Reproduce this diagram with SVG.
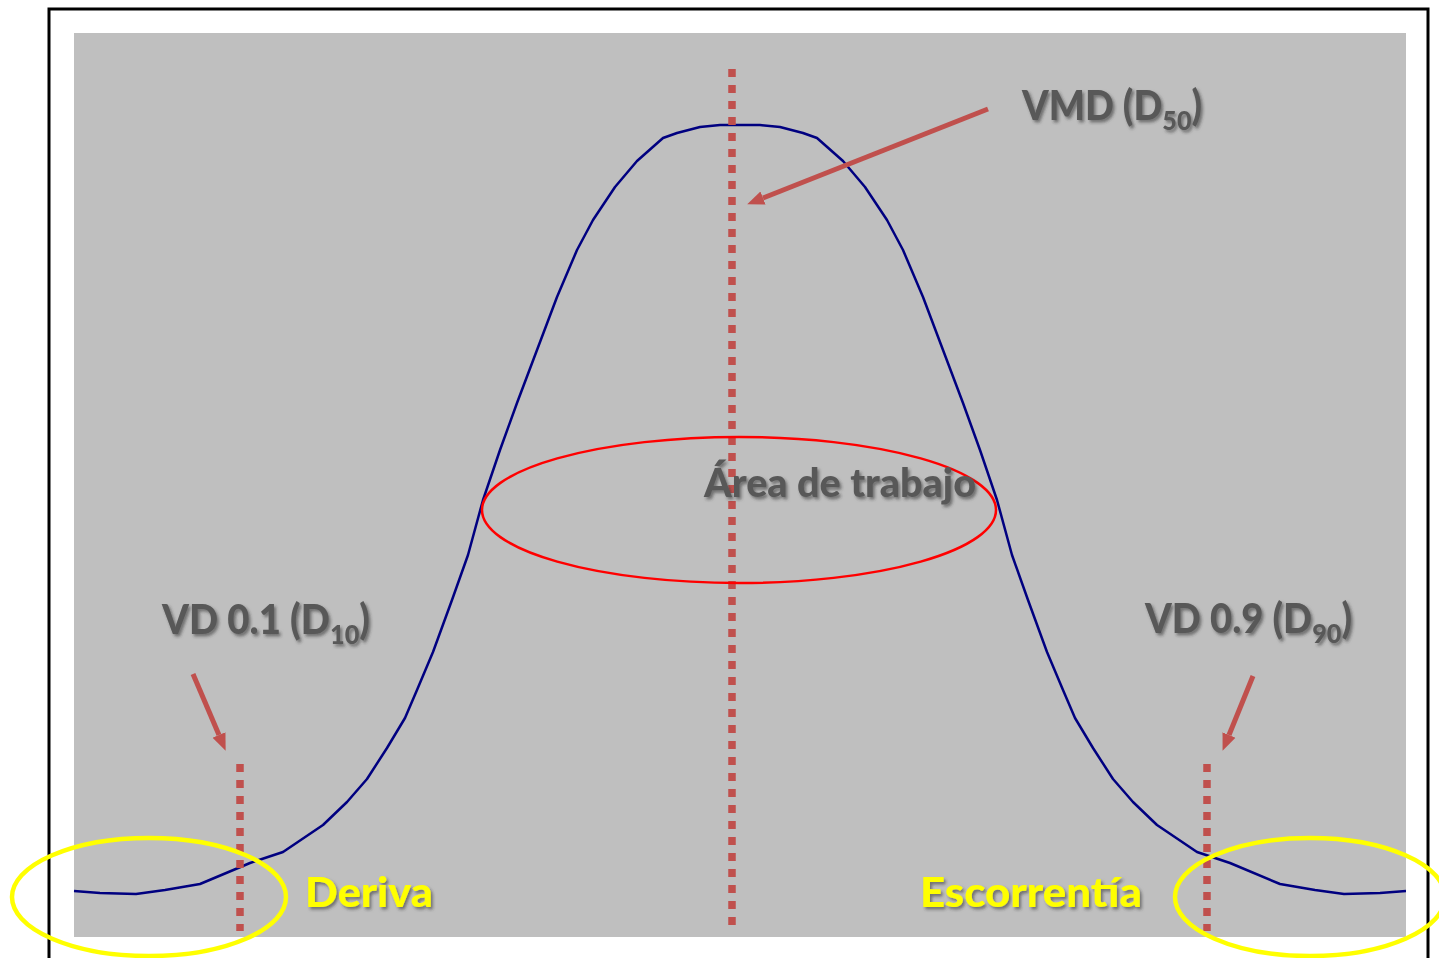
<svg xmlns="http://www.w3.org/2000/svg" width="1439" height="958" viewBox="0 0 1439 958">
<defs>
<style>
.lbl{font-family:Lato,"Open Sans","Liberation Sans",sans-serif;font-weight:900;fill:#595959;filter:url(#sh)}
.yl{font-family:Lato,"Open Sans","Liberation Sans",sans-serif;font-weight:900;fill:#FFFF00;filter:url(#sh)}
.dot{stroke:#C0504D;stroke-width:7.5;stroke-dasharray:8 8;fill:none}
.arr{stroke:#C0504D;stroke-width:5;fill:none;marker-end:url(#ah)}
</style>
<filter id="sh" x="-10%" y="-20%" width="130%" height="150%">
<feDropShadow dx="2" dy="2.5" stdDeviation="1.5" flood-color="#303030" flood-opacity="0.55"/>
</filter>
<marker id="ah" markerUnits="userSpaceOnUse" markerWidth="20" markerHeight="16" refX="0" refY="7" orient="auto" viewBox="0 0 20 14">
<path d="M0,0 L17,7 L0,14 z" fill="#C0504D"/>
</marker>
</defs>
<rect x="0" y="0" width="1439" height="958" fill="#FFFFFF"/>
<rect id="frame" x="49" y="9" width="1379" height="1000" fill="#FFFFFF" stroke="#000000" stroke-width="3"/>
<rect id="plot" x="74" y="33" width="1332" height="904" fill="#BFBFBF"/>

<g id="curve">
<polyline fill="none" stroke="#000080" stroke-width="2.5" stroke-linejoin="round" points="74,891 100,893 136,894 165,890 200,884 250,863 283,852 323,825 347,802 367,779 387,748 405,718 417,690 433,652 452,600 468,555 483,500 500,450 517,403 537,350 557,297 577,250 593,220 615,187 637,161 663,138 677,133 700,127 720,125 740,125 760,125 780,127 803,133 817,138 843,161 865,187 887,220 903,250 923,297 943,350 963,403 980,450 997,500 1012,555 1028,600 1047,652 1063,690 1075,718 1093,748 1113,779 1133,802 1157,825 1197,852 1230,863 1280,884 1315,890 1344,894 1380,893 1406,891"/>
</g>

<g id="connectors">
<line class="dot" x1="732" y1="69" x2="732" y2="926"/>
<line class="dot" x1="240" y1="764" x2="240" y2="931"/>
<line class="dot" x1="1207" y1="764" x2="1207" y2="931"/>
<line class="arr" x1="988" y1="109" x2="763" y2="198"/>
<line class="arr" x1="193" y1="674" x2="219" y2="735"/>
<line class="arr" x1="1253" y1="676" x2="1229" y2="735"/>
</g>

<g id="area-trabajo">
<ellipse cx="739" cy="510" rx="257" ry="73" fill="none" stroke="#FF0000" stroke-width="2.5"/>
<text class="lbl" x="704" y="497" font-size="39" textLength="272" lengthAdjust="spacingAndGlyphs">Área de trabajo</text>
</g>

<g id="vmd">
<text class="lbl" x="1022" y="120" font-size="41" textLength="180" lengthAdjust="spacingAndGlyphs">VMD (D<tspan font-size="27" dy="10">50</tspan><tspan dy="-10">)</tspan></text>
</g>

<g id="d10">
<text class="lbl" x="162" y="634" font-size="41" textLength="208" lengthAdjust="spacingAndGlyphs">VD 0.1 (D<tspan font-size="27" dy="10">10</tspan><tspan dy="-10">)</tspan></text>
</g>

<g id="d90">
<text class="lbl" x="1145" y="633" font-size="41" textLength="207" lengthAdjust="spacingAndGlyphs">VD 0.9 (D<tspan font-size="27" dy="10">90</tspan><tspan dy="-10">)</tspan></text>
</g>

<g id="deriva">
<ellipse cx="149" cy="897" rx="137" ry="59" fill="none" stroke="#FFFF00" stroke-width="4.5"/>
<text class="yl" x="305" y="907" font-size="41" textLength="128" lengthAdjust="spacingAndGlyphs">Deriva</text>
</g>

<g id="escorrentia">
<ellipse cx="1310" cy="897" rx="135" ry="59" fill="none" stroke="#FFFF00" stroke-width="4.5"/>
<text class="yl" x="920" y="907" font-size="41" textLength="222" lengthAdjust="spacingAndGlyphs">Escorrentía</text>
</g>
</svg>
